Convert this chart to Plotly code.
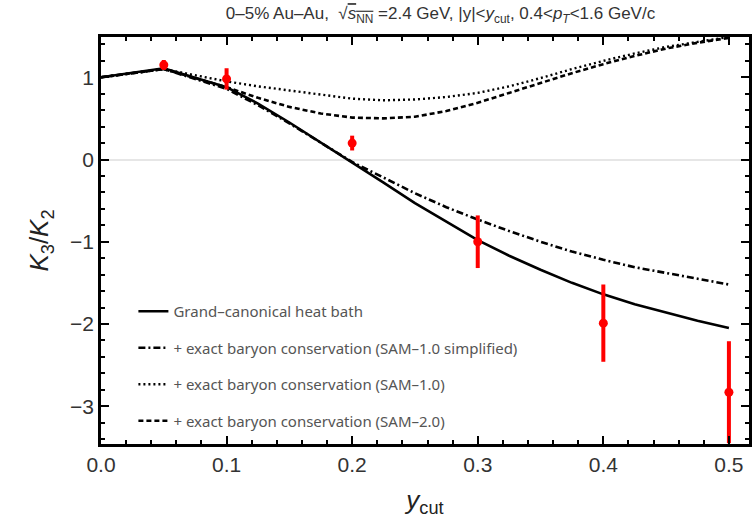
import plotly.graph_objects as go

# ---- data ----
x_curve = [0.0, 0.05, 0.1, 0.125, 0.15, 0.175, 0.2, 0.225, 0.25, 0.275, 0.3,
           0.325, 0.35, 0.375, 0.4, 0.425, 0.45, 0.475, 0.5]
gce = [1.0, 1.11, 0.88, 0.68, 0.45, 0.21, -0.03, -0.28, -0.53, -0.76, -0.98,
       -1.17, -1.34, -1.50, -1.64, -1.76, -1.86, -1.96, -2.05]
sam10_simpl = [1.0, 1.10, 0.86, 0.66, 0.44, 0.20, -0.03, -0.22, -0.41, -0.58, -0.73,
               -0.87, -1.00, -1.12, -1.22, -1.31, -1.38, -1.45, -1.52]
sam10 = [1.0, 1.10, 0.95, 0.89, 0.84, 0.79, 0.74, 0.72, 0.73, 0.76, 0.81,
         0.89, 0.99, 1.10, 1.20, 1.29, 1.37, 1.43, 1.49]
sam20 = [1.0, 1.10, 0.88, 0.75, 0.64, 0.56, 0.51, 0.50, 0.52, 0.59, 0.69,
         0.81, 0.93, 1.05, 1.16, 1.26, 1.35, 1.42, 1.48]

x_data = [0.05, 0.1, 0.2, 0.3, 0.4, 0.5]
y_data = [1.15, 0.98, 0.20, -1.00, -1.99, -2.83]
err_data = [0.06, 0.13, 0.09, 0.32, 0.47, 0.62]

names = ["Grand\u2013canonical heat bath",
         "+ exact baryon conservation (SAM\u20131.0 simplified)",
         "+ exact baryon conservation (SAM\u20131.0)",
         "+ exact baryon conservation (SAM\u20132.0)"]

fig = go.Figure()
styles = [("solid", 2.6), ("7px,3px,2px,3px", 2.6), ("2px,3px", 2.4), ("5px,3px", 2.6)]
for i, (yv, (dash, w)) in enumerate(zip([gce, sam10_simpl, sam10, sam20], styles)):
    fig.add_trace(go.Scatter(x=x_curve, y=yv, mode="lines", name=names[i],
                             legendgroup=f"g{i}",
                             line=dict(color="black", width=w, dash=dash)))

fig.add_trace(go.Scatter(x=x_data, y=y_data, mode="markers", showlegend=False,
                         marker=dict(color="red", size=9),
                         error_y=dict(type="data", array=err_data, color="red",
                                      thickness=4, width=0)))

fig.update_layout(
    width=753, height=527,
    margin=dict(l=101, r=1, t=37, b=83),
    plot_bgcolor="white", paper_bgcolor="white",
    title=dict(
        text="0\u20135% Au\u2013Au,  \u221a<span style='text-decoration:overline'><i>s</i><sub>NN</sub></span> =2.4 GeV, |y|&lt;<i>y</i><sub>cut</sub>, 0.4&lt;<i>p<sub>T</sub></i>&lt;1.6 GeV/c",
        x=0.585, xanchor="center", y=0.975, yanchor="middle",
        font=dict(family="Liberation Sans", size=17, color="#333")),
    legend=dict(x=0.05, y=0.366, xanchor="left", yanchor="top",
                bgcolor="rgba(0,0,0,0)", tracegroupgap=14,
                font=dict(family="Noto Sans", size=15, color="#555")),
    showlegend=True,
)

axis_common = dict(
    showline=True, linecolor="black", linewidth=2.5, mirror="ticks",
    ticks="inside", ticklen=8, tickwidth=2, tickcolor="black",
    showgrid=False,
    tickfont=dict(family="Liberation Sans", size=21, color="#333"),
)
fig.update_xaxes(range=[0, 0.516], tickvals=[0, 0.1, 0.2, 0.3, 0.4, 0.5],
                 ticktext=["0.0", "0.1", "0.2", "0.3", "0.4", "0.5"],
                 zeroline=False,
                 minor=dict(dtick=0.02, tick0=0, ticks="inside", ticklen=4, tickcolor="black", tickwidth=1.5),
                 title=dict(text="<i>y</i><sub>cut</sub>", font=dict(family="Liberation Sans", size=26, color="#222"), standoff=16),
                 **axis_common)
fig.update_yaxes(range=[-3.46, 1.49], tickvals=[-3, -2, -1, 0, 1],
                 ticktext=["\u22123", "\u22122", "\u22121", "0", "1"],
                 zeroline=True, zerolinecolor="#e6e6e6", zerolinewidth=1.5,
                 minor=dict(dtick=0.2, tick0=0, ticks="inside", ticklen=4, tickcolor="black", tickwidth=1.5),
                 title=dict(text="<i>K</i><sub>3</sub>/<i>K</i><sub>2</sub>", font=dict(family="Liberation Sans", size=26, color="#222"), standoff=14),
                 **axis_common)

fig.write_html("out.html")
